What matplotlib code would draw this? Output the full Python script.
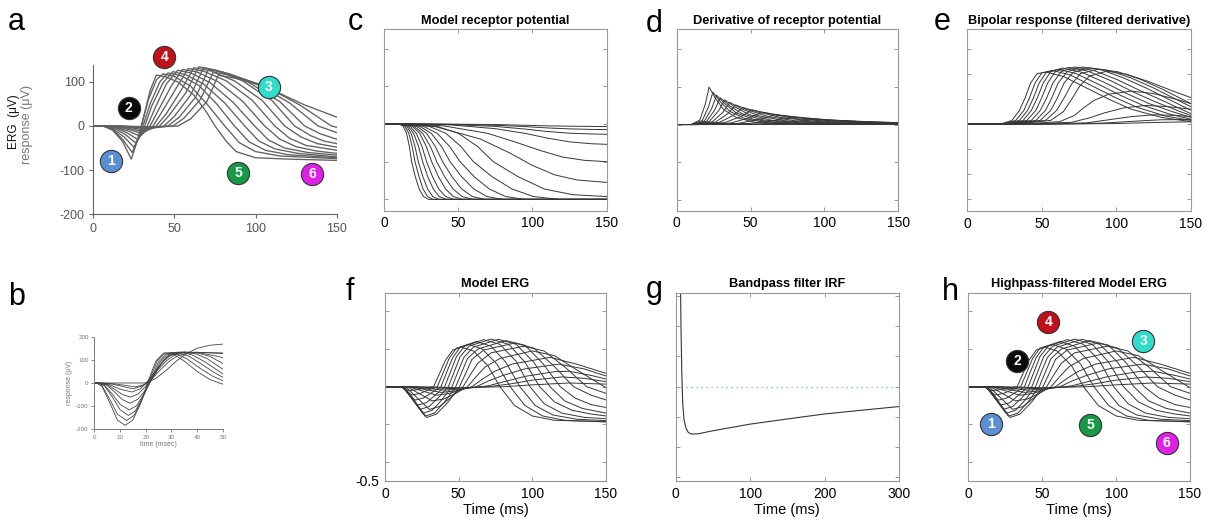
import matplotlib
matplotlib.use('Agg')
import matplotlib.pyplot as plt

plt.rcParams['font.family'] = ['Liberation Sans', 'DejaVu Sans']
plt.rcParams['axes.unicode_minus'] = False

# ---- panel a: recorded ERG (uV vs ms) ----
a_times = [
    [0, 6, 12, 18, 23.4, 27, 31, 35, 38.8, 44, 52, 62, 70, 75, 82, 88, 100, 120, 150],
    [0, 6, 12, 18, 24, 27.5, 29.6, 34, 39, 43, 50, 60, 70, 81, 90, 100, 115, 150],
    [0, 6, 12, 19, 25, 28.5, 30.6, 35, 41, 46, 54, 65, 76, 87, 96, 106, 120, 150],
    [0, 7, 13, 20, 26, 29.5, 31.7, 36, 43, 49, 57, 68, 81, 93.3, 102, 112, 126, 150],
    [0, 7, 14, 21, 27, 31, 33.3, 38, 45, 52, 60, 72, 86, 99.4, 108, 118, 132, 150],
    [0, 7, 14, 22, 28, 32.5, 35, 40, 48, 55, 64, 77, 92, 105.6, 115, 125, 138, 150],
    [0, 8, 15, 23, 29, 34, 36.8, 42, 51, 58.5, 68, 82, 98, 111.8, 121, 131, 150],
    [0, 8, 16, 24, 30, 36, 38.8, 45, 54, 62, 72, 87, 104, 117.9, 128, 138, 150],
    [0, 8, 17, 25, 31, 38, 40.9, 47, 57, 65, 76, 92, 110, 124, 134, 142, 150],
    [0, 9, 18, 26, 32, 40, 43.6, 50, 60, 68, 80, 96, 115, 130.2, 140, 150],
    [0, 9, 20, 33, 42, 46, 53, 63, 71, 84, 101, 121, 138.5, 150],
    [0, 10, 22, 35, 45, 49.1, 56, 66, 74, 88, 106, 127, 146.7, 150],
    [0, 10, 24, 38, 48, 52.2, 60, 70, 77, 92, 110, 130, 150],
]
a_vals = [
    [0, 0, -10, -35, -75, -35, 20, 80, 115, 112, 100, 70, 30, 0, -35, -58, -72, -75, -78],
    [0, 0, -8, -30, -60, -30, 0, 60, 105, 118, 112, 90, 50, 0, -38, -58, -68, -74],
    [0, 0, -6, -25, -48, -25, 0, 50, 100, 120, 114, 92, 50, 0, -36, -55, -65, -72],
    [0, 0, -5, -20, -38, -20, 0, 45, 98, 123, 116, 95, 52, 0, -34, -52, -62, -70],
    [0, 0, -4, -16, -30, -16, 0, 40, 95, 126, 120, 98, 54, 0, -32, -50, -60, -66],
    [0, 0, -3, -12, -22, -12, 0, 35, 90, 128, 122, 100, 56, 0, -30, -47, -57, -62],
    [0, 0, -2, -9, -16, -9, 0, 30, 85, 130, 124, 102, 58, 0, -28, -44, -55],
    [0, 0, -2, -7, -12, -6, 0, 28, 80, 132, 125, 102, 58, 0, -25, -40, -48],
    [0, 0, -1, -5, -9, -4, 0, 25, 75, 134, 126, 102, 58, 0, -22, -34, -40],
    [0, 0, -1, -3, -6, -3, 0, 22, 70, 132, 122, 98, 55, 0, -18, -30],
    [0, 0, -1, -4, -2, 0, 20, 65, 128, 118, 95, 52, 0, -15],
    [0, 0, -1, -3, -1, 0, 18, 60, 122, 112, 90, 48, 0, -3],
    [0, 0, -1, -2, -1, 0, 16, 55, 115, 105, 82, 48, 20],
]

# ---- panel b: inset of early responses ----
b_times = [
    [0, 1, 3, 6, 9, 12, 15, 18, 21, 24, 27, 30, 35, 40, 45, 50],
    [0, 1, 3, 6, 9, 12.6, 15.5, 18.5, 21.5, 24.5, 27.5, 31, 36, 41, 46, 50],
    [0, 1.5, 4, 7, 10, 13.3, 16, 19, 22, 25, 28, 32, 37, 42, 46, 50],
    [0, 1.5, 4, 7, 10, 13.6, 16.5, 19.5, 22.5, 25.5, 28.5, 33, 38, 43, 50],
    [0, 2, 5, 8, 11, 13.9, 17, 20, 23, 26, 29, 34, 39, 44, 50],
    [0, 2, 5, 8, 11, 14.2, 17, 20, 23, 26, 29, 35, 40, 45, 50],
    [0, 2, 6, 10, 14.6, 18, 21, 24, 27, 30, 35, 40, 45, 50],
    [0, 3, 7, 11, 15.2, 19, 22, 25, 28, 31, 35, 40, 45, 50],
    [0, 3, 8, 12, 16, 20, 23, 26, 29, 32, 36, 42, 50],
    [0, 20, 24, 28, 32, 36, 40, 45, 50],
]
b_vals = [
    [0, 0, -15, -85, -160, -183, -160, -90, 10, 95, 130, 130, 95, 50, 15, -5],
    [0, 0, -12, -70, -135, -162, -140, -75, 15, 95, 128, 132, 105, 65, 30, 10],
    [0, 0, -12, -60, -115, -140, -120, -60, 15, 90, 125, 133, 115, 80, 50, 25],
    [0, 0, -10, -48, -92, -116, -98, -45, 20, 88, 122, 134, 122, 92, 40],
    [0, 0, -10, -40, -72, -87, -70, -30, 25, 85, 120, 134, 128, 105, 60],
    [0, 0, -7, -28, -50, -61, -48, -15, 30, 82, 118, 134, 130, 115, 85],
    [0, 0, -8, -26, -39, -25, 10, 55, 95, 122, 133, 132, 122, 110],
    [0, 0, -5, -15, -25, -12, 20, 60, 95, 120, 132, 133, 130, 127],
    [0, 0, -4, -10, -17, -5, 25, 60, 92, 115, 128, 132, 130],
    [0, 0, 20, 55, 95, 128, 150, 163, 168],
]

# ---- panel c: model receptor potential ----
c_fast_vals = [0, 0, -0.012, -0.05, -0.12, -0.2, -0.28, -0.345, -0.385, -0.4, -0.4]
c_fast_times = [
    [0, 10, 13.0, 15.2, 17.1, 18.6, 21.1, 23.7, 26.6, 30, 150],
    [0, 10.5, 14.1, 16.7, 19.0, 20.9, 23.6, 26.3, 29.4, 33, 150],
    [0, 11, 15.2, 18.3, 20.9, 23.1, 26.2, 29.4, 32.8, 37, 150],
    [0, 11, 16.3, 20, 23.3, 26, 29.5, 33.2, 37.2, 42, 150],
    [0, 11.5, 17.5, 21.8, 25.6, 28.7, 32.7, 36.9, 41.5, 47, 150],
    [0, 12, 19, 24.1, 28.5, 32.1, 36.7, 41.5, 46.7, 53, 150],
    [0, 12, 20.2, 26.1, 31.3, 35.5, 40.9, 46.5, 52.7, 60, 150],
    [0, 12.5, 22, 28.7, 34.6, 39.5, 45.8, 52.3, 59.5, 68, 150],
    [0, 13, 24, 31.9, 38.8, 44.5, 52.3, 60.5, 69.4, 80, 150],
    [0, 13, 26.4, 35.9, 44.3, 51.2, 60.8, 70.9, 81.9, 95, 150],
    [0, 14, 30.2, 41.7, 51.9, 60.2, 72.9, 86.2, 100.7, 118, 150],
]
c_slow_times = [
    [0, 15, 35.5, 50.2, 63.1, 73.6, 90.4, 108, 127, 150],
    [0, 16, 35, 65, 85, 100, 115, 130, 150],
    [0, 18, 40, 70, 90, 105, 120, 135, 150],
    [0, 20, 45, 75, 95, 110, 125, 140, 150],
    [0, 20, 45, 75, 95, 110, 125, 140, 150],
    [0, 20, 45, 75, 95, 110, 125, 140, 150],
    [0, 20, 45, 75, 95, 110, 125, 140, 150],
]
c_slow_vals = [
    [0, 0, -0.012, -0.05, -0.12, -0.2, -0.28, -0.345, -0.375, -0.385],
    [0, 0, -0.015, -0.08, -0.155, -0.22, -0.27, -0.297, -0.31],
    [0, 0, -0.01, -0.05, -0.1, -0.14, -0.175, -0.193, -0.2],
    [0, 0, -0.005, -0.025, -0.05, -0.075, -0.095, -0.105, -0.108],
    [0, 0, -0.003, -0.013, -0.027, -0.04, -0.049, -0.053, -0.055],
    [0, 0, -0.002, -0.007, -0.014, -0.021, -0.026, -0.029, -0.03],
    [0, 0, -0.001, -0.003, -0.007, -0.01, -0.012, -0.013, -0.014],
]

# ---- panel d: derivative of receptor potential ----
d_times = [
    [0, 9.5, 15.7, 19.4, 21.9, 26.2, 31.8, 40.5, 53, 71.5, 150],
    [0, 10, 17.3, 21.6, 24.5, 29.6, 36.1, 46.3, 60.8, 82.5, 150],
    [0, 10.5, 18.8, 23.7, 27, 32.8, 40.2, 51.8, 68.3, 93, 150],
    [0, 11, 20.3, 25.8, 29.5, 36, 44.3, 57.3, 75.8, 103.5, 150],
    [0, 11.5, 22, 28.3, 32.5, 39.9, 49.3, 64, 85, 116.5, 150],
    [0, 12, 24, 31.2, 36, 44.4, 55.2, 72, 96, 132, 150],
    [0, 12.5, 26.3, 34.5, 40, 49.6, 62, 81, 109, 150],
    [0, 13, 29, 38.6, 45, 56.2, 70.6, 93, 125, 150],
    [0, 14, 32.5, 43.6, 51, 64, 80.5, 106.5, 150],
    [0, 15, 36.5, 49.4, 58, 73, 92.4, 122.5, 150],
    [0, 16, 41.5, 56.8, 67, 84.9, 107.8, 150],
    [0, 18, 48, 66, 78, 99, 126, 150],
    [0, 20, 56, 77.6, 92, 117, 150],
    [0, 25, 65, 90, 108, 130, 150],
    [0, 30, 75, 100, 120, 150],
]
d_vals = [
    [0, 0, .024, .109, .198, .139, .079, .036, .012, .002, 0],
    [0, 0, .021, .095, .172, .12, .069, .031, .01, .002, 0],
    [0, 0, .019, .085, .155, .109, .062, .028, .009, .002, 0],
    [0, 0, .017, .078, .142, .099, .057, .026, .009, .002, 0],
    [0, 0, .016, .072, .13, .091, .052, .023, .008, .002, 0],
    [0, 0, .014, .064, .117, .082, .047, .021, .007, .002, .001],
    [0, 0, .013, .057, .104, .073, .042, .019, .006, .001],
    [0, 0, .011, .05, .09, .064, .037, .017, .005, .002],
    [0, 0, .01, .043, .078, .055, .031, .014, .004],
    [0, 0, .008, .036, .065, .046, .026, .012, .006],
    [0, 0, .006, .029, .052, .037, .021, .007],
    [0, 0, .005, .021, .039, .027, .015, .009],
    [0, 0, .003, .014, .027, .019, .01],
    [0, 0, .002, .008, .014, .012, .009],
    [0, 0, .001, .004, .006, .005],
]

# ---- panel e: bipolar response ----
e_times = [
    [0, 22, 30, 35, 38.8, 42.5, 47, 53, 65, 80, 95, 110, 130, 150],
    [0, 23, 32.5, 38, 41.7, 45.5, 50, 57, 69, 84, 99, 114, 133, 150],
    [0, 24, 35, 40.5, 44.4, 48.3, 53, 61, 73, 88, 103, 118, 136, 150],
    [0, 25, 37.5, 43, 47, 51, 56, 64, 77, 92, 107, 122, 139, 150],
    [0, 26, 40, 46, 49.9, 54, 59, 68, 81, 96, 111, 126, 142, 150],
    [0, 27, 43, 49, 53.3, 57.5, 63, 72, 85, 100, 115, 130, 150],
    [0, 28, 46, 52.5, 56.7, 61, 67, 77, 90, 105, 120, 135, 150],
    [0, 29, 49, 56, 60.5, 65, 71, 82, 95, 110, 125, 140, 150],
    [0, 30, 52.5, 60, 65, 70, 76, 88, 101, 116, 131, 150],
    [0, 32, 56, 64.5, 70.1, 75.5, 82, 93.6, 107, 122, 137, 150],
    [0, 35, 62, 72, 78, 85, 95, 110, 125, 140, 150],
    [0, 40, 70, 82, 92, 105, 120, 135, 150],
    [0, 45, 80, 95, 110, 125, 140, 150],
    [0, 50, 90, 110, 130, 150],
    [0, 60, 100, 125, 150],
]
e_vals = [
    [0, 0, 0.03, 0.11, 0.21, 0.33, 0.405, 0.418, 0.38, 0.29, 0.2, 0.12, 0.055, 0.02],
    [0, 0, 0.03, 0.11, 0.21, 0.33, 0.41, 0.43, 0.395, 0.305, 0.215, 0.135, 0.065, 0.03],
    [0, 0, 0.03, 0.11, 0.21, 0.33, 0.415, 0.44, 0.405, 0.32, 0.23, 0.15, 0.08, 0.04],
    [0, 0, 0.03, 0.11, 0.21, 0.33, 0.42, 0.45, 0.415, 0.335, 0.245, 0.165, 0.095, 0.055],
    [0, 0, 0.03, 0.11, 0.21, 0.33, 0.42, 0.455, 0.425, 0.35, 0.26, 0.18, 0.105, 0.07],
    [0, 0, 0.03, 0.11, 0.21, 0.33, 0.42, 0.458, 0.43, 0.36, 0.275, 0.195, 0.085],
    [0, 0, 0.03, 0.11, 0.21, 0.33, 0.42, 0.458, 0.435, 0.37, 0.29, 0.2, 0.112],
    [0, 0, 0.03, 0.11, 0.21, 0.33, 0.415, 0.452, 0.43, 0.37, 0.29, 0.2, 0.14],
    [0, 0, 0.03, 0.11, 0.21, 0.32, 0.405, 0.44, 0.42, 0.36, 0.28, 0.165],
    [0, 0, 0.03, 0.1, 0.2, 0.305, 0.385, 0.424, 0.4, 0.34, 0.27, 0.213],
    [0, 0, 0.02, 0.07, 0.13, 0.19, 0.24, 0.265, 0.245, 0.2, 0.165],
    [0, 0, 0.015, 0.05, 0.09, 0.13, 0.15, 0.14, 0.12],
    [0, 0, 0.01, 0.035, 0.06, 0.075, 0.07, 0.06],
    [0, 0, 0.008, 0.022, 0.035, 0.037],
    [0, 0, 0.005, 0.013, 0.019],
]

# ---- panels f / h: model ERG ----
f_times = [
    [0, 11, 15.8, 22, 28, 33, 37, 41, 46, 52, 60, 70, 78, 88, 100, 115, 150],
    [0, 11, 18.1, 24, 30, 35.5, 39.5, 43.5, 48.5, 57, 66, 76, 85, 95, 107, 122, 150],
    [0, 11.5, 20.4, 26, 32, 38, 42, 46, 51, 62, 72, 82, 91.6, 102, 114, 130, 150],
    [0, 12, 22, 28, 34, 40.5, 44.5, 48.5, 54, 67, 78, 89, 98.4, 108, 120, 135, 150],
    [0, 12, 23.8, 30, 36, 43, 47, 51, 57, 72, 84, 95, 105, 115, 127, 140, 150],
    [0, 12.5, 25.6, 32, 38.5, 45.5, 49.5, 53.5, 60, 77, 89, 101, 112, 122, 134, 150],
    [0, 12.5, 27.1, 33.5, 40.5, 48, 52, 56, 63, 82, 95, 107, 119, 129, 140, 150],
    [0, 13, 28.3, 35, 43, 50.5, 55, 59, 67, 88, 101, 114, 128, 140, 150],
    [0, 14, 30, 37, 45, 53, 58, 63, 72, 94, 108, 122, 137, 150],
    [0, 15, 32, 40, 48, 56, 62, 68, 78, 100, 115, 130, 150],
    [0, 16, 35, 44, 52, 59, 66, 74, 86, 112, 130, 150],
    [0, 17, 38, 48, 55, 62, 70, 80, 95, 118, 135, 150],
    [0, 18, 40, 52, 60, 70, 80, 95, 115, 125, 140, 150],
    [0, 20, 45, 58, 70, 85, 100, 120, 135, 150],
    [0, 22, 50, 65, 80, 100, 125, 150],
]
f_vals = [
    [0, 0, -0.021, -0.015, -0.005, 0, 0.07, 0.14, 0.195, 0.21, 0.19, 0.11, 0, -0.1, -0.155, -0.178, -0.186],
    [0, 0, -0.044, -0.035, -0.015, 0, 0.075, 0.15, 0.205, 0.225, 0.2, 0.12, 0, -0.1, -0.155, -0.178, -0.186],
    [0, 0, -0.071, -0.06, -0.03, 0, 0.08, 0.155, 0.21, 0.24, 0.215, 0.13, 0, -0.1, -0.15, -0.172, -0.18],
    [0, 0, -0.097, -0.085, -0.045, 0, 0.08, 0.16, 0.215, 0.25, 0.225, 0.135, 0, -0.09, -0.14, -0.162, -0.17],
    [0, 0, -0.12, -0.105, -0.06, 0, 0.08, 0.16, 0.215, 0.253, 0.225, 0.13, 0, -0.08, -0.125, -0.145, -0.155],
    [0, 0, -0.141, -0.125, -0.07, 0, 0.08, 0.155, 0.21, 0.252, 0.225, 0.13, 0, -0.075, -0.115, -0.14],
    [0, 0, -0.156, -0.14, -0.08, 0, 0.075, 0.15, 0.2, 0.245, 0.22, 0.125, 0, -0.06, -0.095, -0.11],
    [0, 0, -0.163, -0.145, -0.08, 0, 0.075, 0.145, 0.195, 0.232, 0.205, 0.115, 0, -0.045, -0.07],
    [0, 0, -0.12, -0.105, -0.055, 0, 0.065, 0.125, 0.18, 0.215, 0.19, 0.105, 0, -0.035],
    [0, 0, -0.075, -0.065, -0.035, 0, 0.055, 0.105, 0.15, 0.19, 0.165, 0.09, -0.005],
    [0, 0, -0.045, -0.035, -0.015, 0, 0.04, 0.08, 0.12, 0.156, 0.12, 0.071],
    [0, 0, -0.03, -0.022, -0.008, 0, 0.03, 0.06, 0.095, 0.12, 0.095, 0.057],
    [0, 0, -0.018, -0.012, -0.004, 0.005, 0.025, 0.055, 0.08, 0.082, 0.06, 0.041],
    [0, 0, -0.01, -0.005, 0, 0.015, 0.035, 0.052, 0.045, 0.027],
    [0, 0, -0.005, -0.002, 0, 0.01, 0.02, 0.014],
]

# ---- panel g: bandpass filter impulse response ----
g_t = [6.4, 7, 8.1, 9.4, 11.2, 13.9, 17, 21.5, 30, 50, 100, 150, 200, 250, 300]
g_v = [3.5, 2.2, 0.55, -0.55, -1.1, -1.38, -1.52, -1.57, -1.56, -1.46, -1.24, -1.07, -0.905, -0.78, -0.66]

# ---- numbered badges ----
badge_labels = ['1', '2', '3', '4', '5', '6']
badge_colors = ['#5a8fd4', '#0a0a0a', '#30dccb', '#c0101a', '#169a48', '#e020e6']
a_badge_x = [11.1, 21.8, 108.1, 43.8, 89.2, 135]
a_badge_y = [-78.5, 40, 87.6, 155, -105.7, -108.6]
h_badge_x = [15.2, 33.2, 118.4, 54.1, 82.3, 134.2]
h_badge_y = [-0.198, 0.136, 0.244, 0.345, -0.203, -0.30]

W, H = 1208.0, 521.0
LINE = '#363636'


def px_axes(fig, x0, x1, y0, y1):
    """Add axes from pixel edges (y measured from top)."""
    return fig.add_axes([x0 / W, 1 - y1 / H, (x1 - x0) / W, (y1 - y0) / H])


def draw_family(ax, times, vals, color=LINE, lw=0.7):
    for t, v in zip(times, vals):
        ax.plot(t, v, color=color, lw=lw)


def matlab_box(ax, xmax, xticks, ylim, yticks):
    ax.set_xlim(0, xmax)
    ax.set_ylim(*ylim)
    ax.set_xticks(xticks)
    ax.set_yticks(yticks)
    ax.set_yticklabels([])
    ax.tick_params(direction='in', top=True, right=True, length=3, width=0.6,
                   color='#888888', labelsize=10, pad=4)
    for s in ax.spines.values():
        s.set_color('#999999')
        s.set_linewidth(0.8)


def panel_title(ax, text):
    ax.set_title(text, fontsize=9.2, fontweight='bold', pad=4)


def draw_badges(ax, xs, ys):
    for x, y, n, c in zip(xs, ys, badge_labels, badge_colors):
        ax.plot(x, y, 'o', ms=16, mfc=c, mec='#333333', mew=0.8,
                clip_on=False, zorder=5)
        ax.text(x, y, n, color='white', fontsize=10, fontweight='bold',
                ha='center', va='center', zorder=6, clip_on=False)


fig = plt.figure(figsize=(12.08, 5.21), dpi=100)

# a
ax_a = px_axes(fig, 93.3, 336.7, 65, 214.3)
draw_family(ax_a, a_times, a_vals, color='#606060', lw=0.95)
ax_a.set_xlim(0, 150)
ax_a.set_ylim(-200, 138)
ax_a.set_xticks([0, 50, 100, 150])
ax_a.set_yticks([-200, -100, 0, 100])
ax_a.tick_params(direction='out', length=3, width=0.8, color='#666666',
                 labelcolor='#555555', labelsize=9, pad=3)
for side in ['top', 'right']:
    ax_a.spines[side].set_visible(False)
for side in ['left', 'bottom']:
    ax_a.spines[side].set_color('#666666')
draw_badges(ax_a, a_badge_x, a_badge_y)
fig.text(14 / W, 1 - 122 / H, 'ERG  (μV)', rotation=90, fontsize=8.5,
         ha='center', va='center', color='#111111')
fig.text(27 / W, 1 - 125 / H, 'response (μV)', rotation=90, fontsize=9,
         ha='center', va='center', color='#777777')

# b
ax_b = px_axes(fig, 94.3, 222.7, 336.7, 429.3)
draw_family(ax_b, b_times, b_vals, color='#444444', lw=0.6)
ax_b.set_xlim(0, 50)
ax_b.set_ylim(-200, 200)
ax_b.set_xticks([0, 10, 20, 30, 40, 50])
ax_b.set_yticks([-200, -100, 0, 100, 200])
ax_b.tick_params(direction='out', length=2, width=0.6, color='#777777',
                 labelcolor='#777777', labelsize=4.5, pad=2)
for side in ['top', 'right']:
    ax_b.spines[side].set_visible(False)
for side in ['left', 'bottom']:
    ax_b.spines[side].set_color('#777777')
    ax_b.spines[side].set_linewidth(0.7)
ax_b.set_ylabel('response (μV)', fontsize=5, color='#777777', labelpad=2)
ax_b.set_xlabel('time (msec)', fontsize=5, color='#777777', labelpad=1)

# c
ax_c = px_axes(fig, 384, 606.7, 29.3, 210.7)
draw_family(ax_c, c_fast_times, [c_fast_vals] * len(c_fast_times))
draw_family(ax_c, c_slow_times, c_slow_vals)
matlab_box(ax_c, 150, [0, 50, 100, 150], (-0.46, 0.502), [-0.4, -0.2, 0, 0.2, 0.4])
panel_title(ax_c, 'Model receptor potential')

# d
ax_d = px_axes(fig, 676.7, 898.3, 29.3, 210.7)
draw_family(ax_d, d_times, d_vals)
matlab_box(ax_d, 150, [0, 50, 100, 150], (-0.456, 0.504), [-0.4, -0.2, 0, 0.2, 0.4])
panel_title(ax_d, 'Derivative of receptor potential')

# e
ax_e = px_axes(fig, 967.3, 1190.7, 29.3, 211)
draw_family(ax_e, e_times, e_vals)
matlab_box(ax_e, 150, [0, 50, 100, 150], (-0.696, 0.76),
           [-0.6, -0.4, -0.2, 0, 0.2, 0.4, 0.6])
panel_title(ax_e, 'Bipolar response (filtered derivative)')

# f
ax_f = px_axes(fig, 385, 606, 292.5, 481)
draw_family(ax_f, f_times, f_vals)
matlab_box(ax_f, 150, [0, 50, 100, 150], (-0.5, 0.5), [-0.5, -0.4, -0.2, 0, 0.2, 0.4])
ax_f.set_yticklabels(['-0.5', '', '', '', '', ''])
panel_title(ax_f, 'Model ERG')
ax_f.set_xlabel('Time (ms)', fontsize=10.5, labelpad=2)

# g
ax_g = px_axes(fig, 675.7, 899, 292.5, 481)
ax_g.axhline(0, color='#6fa8d6', lw=0.9, ls=(0, (1, 3)))
ax_g.plot(g_t, g_v, color=LINE, lw=0.8)
matlab_box(ax_g, 300, [0, 100, 200, 300], (-3.12, 3.11), [-3, -2, -1, 0, 1, 2, 3])
panel_title(ax_g, 'Bandpass filter IRF')
ax_g.set_xlabel('Time (ms)', fontsize=10.5, labelpad=2)

# h
ax_h = px_axes(fig, 968.3, 1190, 292.5, 481)
draw_family(ax_h, f_times, f_vals)
matlab_box(ax_h, 150, [0, 50, 100, 150], (-0.5, 0.5), [-0.4, -0.2, 0, 0.2, 0.4])
panel_title(ax_h, 'Highpass-filtered Model ERG')
ax_h.set_xlabel('Time (ms)', fontsize=10.5, labelpad=2)
draw_badges(ax_h, h_badge_x, h_badge_y)

# panel letters
for letter, x, y in [('a', 8, 30), ('b', 8, 305), ('c', 348, 30), ('d', 646, 32),
                     ('e', 934, 30), ('f', 346, 300), ('g', 646, 298), ('h', 942, 300)]:
    fig.text(x / W, 1 - y / H, letter, fontsize=22, ha='left', va='baseline')

fig.savefig('out.png', dpi=100)
